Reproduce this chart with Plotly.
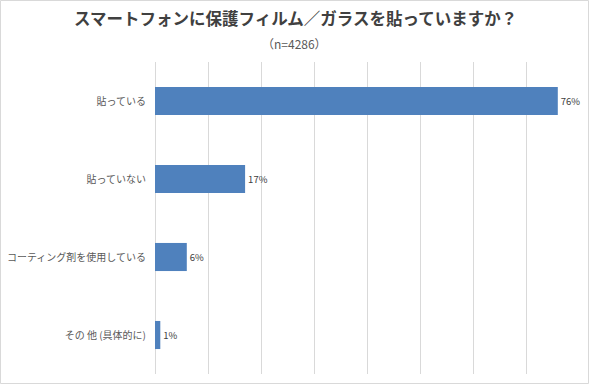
import plotly.graph_objects as go

categories = ["貼っている", "貼っていない", "コーティング剤を使用している", "その 他 (具体的に)"]
values = [76, 17, 6, 1]
title_text = "スマートフォンに保護フィルム／ガラスを貼っていますか？"
subtitle_text = "（n=4286）"

FONT = "Noto Sans CJK JP"
W, H = 590, 385
ML, MR, MT, MB = 155, 11, 62, 11
pw = W - ML - MR
ph = H - MT - MB

fig = go.Figure(go.Bar(
    x=values,
    y=categories,
    orientation="h",
    marker=dict(color="#4f81bd", line=dict(width=0)),
    text=[f"{v}%" for v in values],
    textposition="outside",
    textfont=dict(family=FONT, size=9.5, color="#404040"),
    cliponaxis=False,
))

def px_x(p):
    return (p - ML) / pw

def px_y(p):
    return 1 - (p - MT) / ph

fig.update_layout(
    width=W, height=H,
    margin=dict(l=ML, r=MR, t=MT, b=MB, autoexpand=False),
    paper_bgcolor="white",
    plot_bgcolor="white",
    showlegend=False,
    bargap=0.64,
    font=dict(family=FONT, color="#595959"),
    xaxis=dict(
        range=[0, 80], dtick=10, tick0=0,
        showgrid=True, gridcolor="#d9d9d9", gridwidth=1,
        zeroline=True, zerolinecolor="#d9d9d9", zerolinewidth=1,
        showticklabels=False, showline=False, ticks="",
    ),
    yaxis=dict(
        autorange="reversed", automargin=False,
        showgrid=False, zeroline=False, showline=False, ticks="",
        tickfont=dict(family=FONT, size=10, color="#595959"),
        ticklabelstandoff=8,
    ),
    annotations=[
        dict(text=f"<b>{title_text}</b>", xref="paper", yref="paper",
             x=px_x(295), y=px_y(18), xanchor="center", yanchor="middle",
             showarrow=False, font=dict(family=FONT, size=16.5, color="#404040")),
        dict(text=subtitle_text, xref="paper", yref="paper",
             x=px_x(294), y=px_y(44), xanchor="center", yanchor="middle",
             showarrow=False, font=dict(family=FONT, size=12, color="#595959")),
    ],
    shapes=[
        dict(type="rect", xref="paper", yref="paper",
             x0=px_x(0.5), x1=px_x(588.5), y0=px_y(0.5), y1=px_y(383.5),
             line=dict(color="#d9d9d9", width=1), fillcolor="rgba(0,0,0,0)",
             layer="below"),
    ],
)

fig.write_html("out.html", config={"displayModeBar": False},
               post_script="document.body.style.margin='0';")
